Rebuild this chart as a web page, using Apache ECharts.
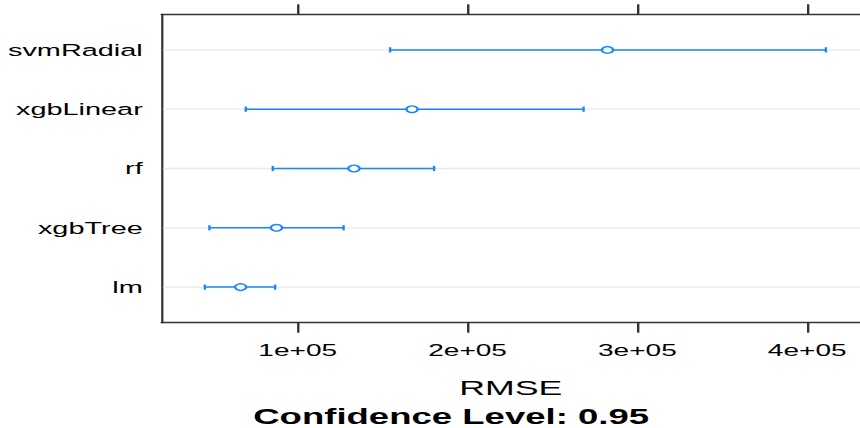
<!DOCTYPE html>
<html>
<head>
<meta charset="utf-8">
<script src="https://cdn.jsdelivr.net/npm/echarts@6/dist/echarts.min.js"></script>
<style>
html,body{margin:0;padding:0;background:#fff;}
#wrap{width:860px;height:428px;overflow:hidden;position:relative;}
#chart{width:506px;height:428px;transform:scaleX(1.69960);transform-origin:0 0;}
</style>
</head>
<body>
<div id="wrap"><div id="chart"></div></div>
<script>
// Models (bottom to top)
const categories = ['lm', 'xgbTree', 'rf', 'xgbLinear', 'svmRadial'];
// 95% confidence interval of RMSE
const lowerValues  = [45300, 48000, 85300, 69400, 154400];
const centerValues = [66400, 87500, 133100, 167300, 282400];
const upperValues  = [86700, 127000, 180300, 268300, 411000];
// x-axis ticks
const tickValues = [100000, 200000, 300000, 400000];
const tickLabels = ['1e+05', '2e+05', '3e+05', '4e+05'];

const FONT = '"Liberation Sans", Arial, sans-serif';
const BLUE = '#1a86ff';
const AXIS = '#333333';

const data = categories.map((c, i) => [lowerValues[i], upperValues[i], centerValues[i], i + 1]);

const chart = echarts.init(document.getElementById('chart'), null, {renderer: 'svg'});
chart.setOption({
  animation: false,
  backgroundColor: '#ffffff',
  title: {
    text: 'Confidence Level: 0.95',
    left: 144,
    top: 400,
    padding: 5,
    textStyle: {fontFamily: FONT, fontSize: 21.5, fontWeight: 'bold', color: '#000'}
  },
  grid: {left: 95, right: 0, top: 14.3, bottom: 105.3, containLabel: false},
  xAxis: [
    {
      type: 'value', position: 'bottom', min: 19760, max: 431080,
      axisLine: {show: true, lineStyle: {color: AXIS, width: 1.3}},
      axisTick: {show: true, length: 10, inside: false, customValues: tickValues, lineStyle: {color: AXIS, width: 1.4}},
      axisLabel: {
        show: true, customValues: tickValues, margin: 19.5,
        fontFamily: FONT, fontSize: 16.5, color: '#000',
        formatter: v => tickLabels[tickValues.indexOf(v)] || ''
      },
      splitLine: {show: false},
      name: 'RMSE', nameLocation: 'middle', nameGap: 54,
      nameTextStyle: {fontFamily: FONT, fontSize: 21, color: '#000'}
    },
    {
      type: 'value', position: 'top', min: 19760, max: 431080,
      axisLine: {show: true, lineStyle: {color: AXIS, width: 1.3}},
      axisTick: {show: true, length: 10, inside: false, customValues: tickValues, lineStyle: {color: AXIS, width: 1.4}},
      axisLabel: {show: false},
      splitLine: {show: false}
    }
  ],
  yAxis: {
    type: 'value', min: 0.4, max: 5.6,
    axisLine: {show: true, lineStyle: {color: AXIS, width: 1.3}},
    axisTick: {show: false},
    axisLabel: {
      show: true, customValues: [1, 2, 3, 4, 5], margin: 11,
      fontFamily: FONT, fontSize: 17, color: '#000',
      formatter: v => categories[Math.round(v) - 1] || ''
    },
    splitLine: {show: false}
  },
  series: [{
    type: 'custom',
    xAxisIndex: 0,
    data: data,
    encode: {x: [0, 1, 2], y: 3},
    renderItem: function (params, api) {
      const y = api.value(3);
      const pL = api.coord([api.value(0), y]);
      const pU = api.coord([api.value(1), y]);
      const pC = api.coord([api.value(2), y]);
      const cs = params.coordSys;
      const cap = 2.6;
      return {
        type: 'group',
        children: [
          {type: 'line', shape: {x1: cs.x + 1, y1: pL[1], x2: cs.x + cs.width, y2: pL[1]},
           style: {stroke: '#e8e8e8', lineWidth: 1.3}},
          {type: 'line', shape: {x1: pL[0], y1: pL[1], x2: pU[0], y2: pU[1]},
           style: {stroke: BLUE, lineWidth: 1.5}},
          {type: 'line', shape: {x1: pL[0], y1: pL[1] - cap, x2: pL[0], y2: pL[1] + cap},
           style: {stroke: BLUE, lineWidth: 1.4}},
          {type: 'line', shape: {x1: pU[0], y1: pU[1] - cap, x2: pU[0], y2: pU[1] + cap},
           style: {stroke: BLUE, lineWidth: 1.4}},
          {type: 'circle', shape: {cx: pC[0], cy: pC[1], r: 3.3},
           style: {fill: '#ffffff', stroke: BLUE, lineWidth: 1.4}}
        ]
      };
    }
  }]
});
</script>
</body>
</html>
